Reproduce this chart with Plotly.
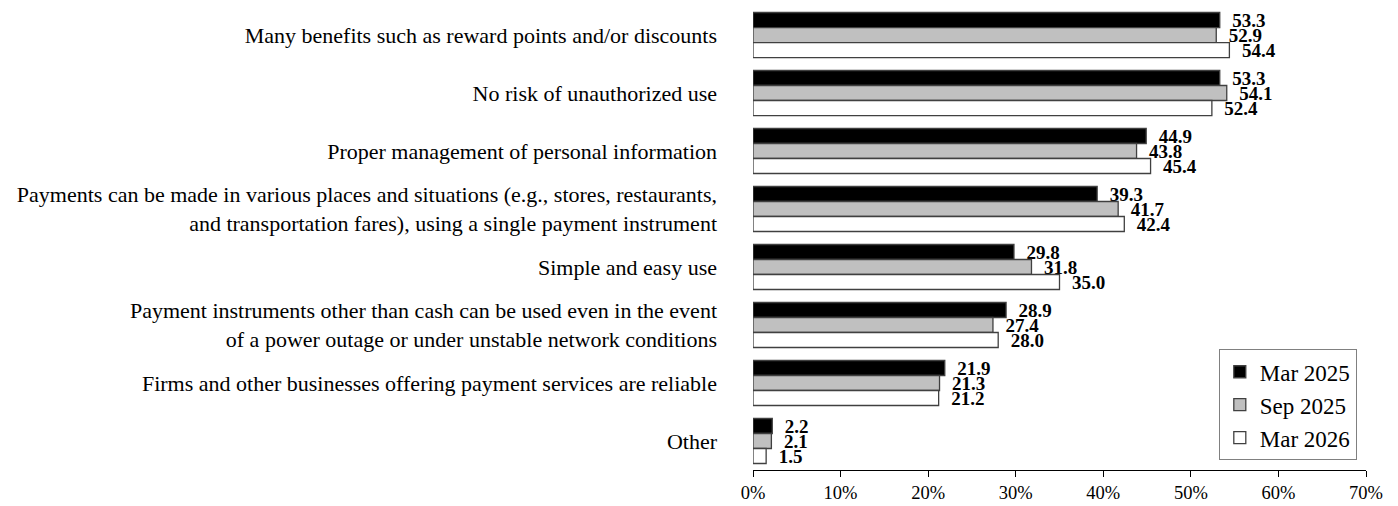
import plotly.graph_objects as go

categories = [
    "Many benefits such as reward points and/or discounts",
    "No risk of unauthorized use",
    "Proper management of personal information",
    "Payments can be made in various places and situations (e.g., stores, restaurants,<br>and transportation fares), using a single payment instrument",
    "Simple and easy use",
    "Payment instruments other than cash can be used even in the event<br>of a power outage or under unstable network conditions",
    "Firms and other businesses offering payment services are reliable",
    "Other",
]
mar2025 = [53.3, 53.3, 44.9, 39.3, 29.8, 28.9, 21.9, 2.2]
sep2025 = [52.9, 54.1, 43.8, 41.7, 31.8, 27.4, 21.3, 2.1]
mar2026 = [54.4, 52.4, 45.4, 42.4, 35.0, 28.0, 21.2, 1.5]
series_names = ["Mar 2025", "Sep 2025", "Mar 2026"]
series_values = [mar2025, sep2025, mar2026]
series_colors = ["#000000", "#c0c0c0", "#ffffff"]
x_ticks = [0, 10, 20, 30, 40, 50, 60, 70]

FONT = "Liberation Serif, Times New Roman, serif"

fig = go.Figure()
for i, (name, vals, col) in enumerate(zip(series_names, series_values, series_colors)):
    fig.add_trace(go.Bar(
        y=categories, x=vals, name=name, orientation="h",
        marker=dict(color=col, line=dict(color="#404040", width=1.3)),
        text=[f"{v:.1f}" for v in vals],
        texttemplate="\u00a0\u00a0%{text}",
        textposition="outside",
        constraintext="none",
        cliponaxis=False,
        textfont=dict(family=FONT, size=19, color="#000000", weight="bold"),
        legendgroup=name,
    ))

fig.update_layout(
    width=1390, height=498,
    margin=dict(l=745, r=32, t=0, b=36, autoexpand=False),
    paper_bgcolor="white", plot_bgcolor="white",
    barmode="group", bargap=0.224, bargroupgap=0,
    font=dict(family=FONT, size=22, color="#000000"),
    showlegend=True,
    legend=dict(
        x=0.985, xanchor="right", y=0.021, yanchor="bottom",
        bordercolor="#808080", borderwidth=1, bgcolor="white",
        font=dict(family=FONT, size=23, color="#000000"),
        traceorder="grouped", tracegroupgap=0,
    ),
)
fig.update_xaxes(
    range=[0, 70], tickvals=x_ticks, ticktext=[f"{t}%" for t in x_ticks],
    showgrid=False, zeroline=False, showline=True, linecolor="#000000", linewidth=1,
    ticks="outside", ticklen=6, tickcolor="#000000",
    tickfont=dict(family=FONT, size=18.5, color="#000000"),
)
fig.update_yaxes(
    range=[7.5, -0.466], showgrid=False, zeroline=False, showline=False,
    ticks="", ticklabelstandoff=35,
    tickfont=dict(family=FONT, size=22, color="#000000"),
)

fig.write_html("out.html")
